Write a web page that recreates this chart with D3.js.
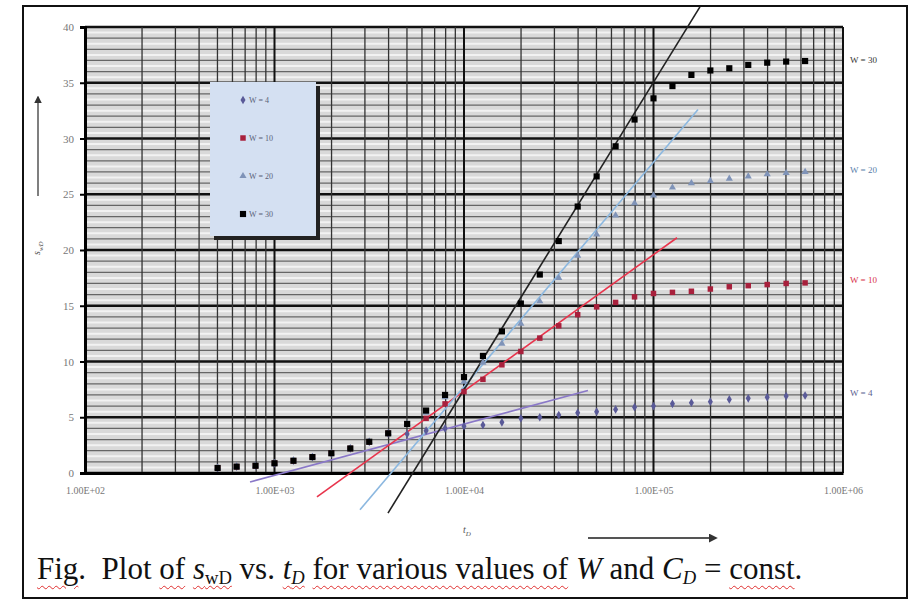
<!DOCTYPE html>
<html>
<head>
    <meta charset="utf-8">
    <script src="https://cdn.jsdelivr.net/npm/d3@7"></script>
    <title>s_wD vs t_D</title>
    <style>
        * {
            margin: 0;
            padding: 0;
        }

        body {
            width: 915px;
            height: 600px;
            background: #fff;
            position: relative;
            overflow: hidden;
        }

        #chart {
            position: absolute;
            left: 0;
            top: 0;
        }

        #caption {
            position: absolute;
            left: 37px;
            top: 551px;
            font-family: "Liberation Serif", "DejaVu Serif", serif;
            font-size: 31px;
            color: #111;
            white-space: nowrap;
        }

        #caption .sq {
            text-decoration: underline wavy #e03030;
            text-decoration-thickness: 1px;
            text-underline-offset: 6px;
        }

        #caption sub {
            font-size: 0.6em;
            vertical-align: -0.25em;
        }
    </style>
</head>
<body>
    <div id="chart"></div>
    <div id="caption"><span class="sq">Fig</span>.&nbsp; Plot <span class="sq">of</span> <span class="sq"><i>s</i><sub>wD</sub></span> vs. <span class="sq"><i>t<sub>D</sub></i></span> <span class="sq">for various values of</span> <i>W</i> and <i>C<sub>D</sub></i> = <span class="sq">const</span>.</div>
    <script>

        // dimensionless time (log spaced samples)
        var tD = [501, 631, 794, 1000, 1259, 1585, 1995, 2512, 3162, 3981, 5012, 6310,
            7943, 10000, 12589, 15849, 19953, 25119, 31623, 39811, 50119, 63096, 79433,
            100000, 125893, 158489, 199526, 251189, 316228, 398107, 501187, 630957];

        var sW4 = [0.45, 0.57, 0.65, 0.87, 1.10, 1.43, 1.77, 2.2, 2.8, 3.56,
            3.5, 3.8, 4.0, 4.2, 4.3, 4.55, 4.9, 5.0, 5.2, 5.4, 5.5, 5.7, 5.9, 6.0,
            6.2, 6.3, 6.4, 6.6, 6.7, 6.8, 6.9, 6.95];

        var sW10 = [0.45, 0.57, 0.65, 0.87, 1.10, 1.43, 1.77, 2.2, 2.8, 3.56, 4.4,
            4.9, 6.2, 7.3, 8.4, 9.7, 10.9, 12.1, 13.2, 14.2, 14.9, 15.3, 15.8, 16.1,
            16.2, 16.3, 16.5, 16.7, 16.8, 16.9, 17.0, 17.05];

        var sW20 = [0.45, 0.57, 0.65, 0.87, 1.10, 1.43, 1.77, 2.2, 2.8, 3.56, 4.4,
            5.4, 6.8, 8.2, 9.9, 11.6, 13.4, 15.4, 17.5, 19.5, 21.4, 23.1, 24.2, 24.9,
            25.6, 26.0, 26.2, 26.4, 26.6, 26.8, 26.9, 27.0];

        var sW30 = [0.45, 0.57, 0.65, 0.87, 1.10, 1.43, 1.77, 2.2, 2.8, 3.56, 4.4,
            5.6, 7.0, 8.6, 10.5, 12.7, 15.2, 17.8, 20.8, 23.9, 26.6, 29.3, 31.7, 33.6,
            34.7, 35.7, 36.1, 36.3, 36.6, 36.8, 36.9, 36.95];

        // straight-line (semilog) tangents, two end points each
        var lineT4 = [743, 45100], lineS4 = [-0.8, 7.4];
        var lineT10 = [1675, 133000], lineS10 = [-2.15, 21.1];
        var lineT20 = [2825, 171800], lineS20 = [-3.3, 32.6];
        var lineT30 = [3970, 175800], lineS30 = [-3.6, 41.8];

        var seriesNames = ["W = 4", "W = 10", "W = 20", "W = 30"];
        var xTickVals = [100, 1000, 10000, 100000, 1000000];
        var xTickLabels = ["1.00E+02", "1.00E+03", "1.00E+04", "1.00E+05", "1.00E+06"];
        var yTickVals = [0, 5, 10, 15, 20, 25, 30, 35, 40];

        var margin = { top: 27, right: 72, bottom: 127, left: 85 },
            width = 915 - margin.left - margin.right,
            height = 600 - margin.top - margin.bottom;

        var svg = d3.select("#chart")
            .append("svg")
            .attr("width", 915)
            .attr("height", 600);

        // outer frame
        svg.append("rect")
            .attr("x", 23).attr("y", 6)
            .attr("width", 884).attr("height", 592)
            .style("fill", "none")
            .style("stroke", "#111")
            .style("stroke-width", 2);

        var g = svg.append("g")
            .attr("transform", "translate(" + margin.left + "," + margin.top + ")");

        var xScale = d3.scaleLog()
            .domain([100, 1000000])
            .range([0, width]);

        var yScale = d3.scaleLinear()
            .domain([0, 40])
            .range([height, 0]);

        g.append("rect")
            .attr("width", width).attr("height", height)
            .style("fill", "#d9d9d9");

        // horizontal grid
        var halfUnits = d3.range(0, 40.01, 0.5);
        g.selectAll(".hg")
            .data(halfUnits)
            .enter()
            .append("line")
            .attr("x1", 0).attr("x2", width)
            .attr("y1", d => yScale(d)).attr("y2", d => yScale(d))
            .style("stroke", function (d) {
                if (d % 5 == 0) return "#111";
                if (d % 1 == 0) return "#666";
                return "#f2f2f2";
            })
            .style("stroke-width", function (d) {
                if (d % 5 == 0) return 2.5;
                if (d % 1 == 0) return 1.2;
                return 2;
            });

        // vertical grid
        var minorX = [];
        for (var dec = 100; dec < 1000000; dec *= 10) {
            for (var m = 2; m <= 9; m++) minorX.push(dec * m);
        }
        g.selectAll(".vg")
            .data(minorX)
            .enter()
            .append("line")
            .attr("y1", 0).attr("y2", height)
            .attr("x1", d => xScale(d)).attr("x2", d => xScale(d))
            .style("stroke", "#333")
            .style("stroke-width", 1.3);

        g.selectAll(".vmaj")
            .data(xTickVals)
            .enter()
            .append("line")
            .attr("y1", 0).attr("y2", height)
            .attr("x1", d => xScale(d)).attr("x2", d => xScale(d))
            .style("stroke", "#111")
            .style("stroke-width", 2);

        // axes
        var yAxis = g.append("g")
            .call(d3.axisLeft(yScale).tickValues(yTickVals).tickSize(5).tickPadding(6));
        yAxis.select(".domain").style("stroke", "#000").style("stroke-width", 3);
        yAxis.selectAll(".tick line").style("stroke", "#000").style("stroke-width", 2);
        yAxis.selectAll("text")
            .style("font-family", "Liberation Serif, serif")
            .style("font-size", "11px")
            .style("fill", "#777");

        var xAxis = g.append("g")
            .attr("transform", "translate(0," + height + ")")
            .call(d3.axisBottom(xScale).tickValues(xTickVals)
                .tickFormat((d, i) => xTickLabels[i]).tickSize(0).tickPadding(14));
        xAxis.select(".domain").style("stroke", "#000").style("stroke-width", 3);
        xAxis.selectAll("text")
            .style("font-family", "Liberation Serif, serif")
            .style("font-size", "10px")
            .style("fill", "#777");

        // tangent lines
        var tangents = [
            { t: lineT4, s: lineS4, color: "#8a78c8" },
            { t: lineT10, s: lineS10, color: "#e8344c" },
            { t: lineT20, s: lineS20, color: "#8cb8e0" },
            { t: lineT30, s: lineS30, color: "#222" }
        ];
        tangents.forEach(function (ln) {
            g.append("line")
                .attr("x1", xScale(ln.t[0])).attr("y1", yScale(ln.s[0]))
                .attr("x2", xScale(ln.t[1])).attr("y2", yScale(ln.s[1]))
                .style("stroke", ln.color)
                .style("stroke-width", 1.6);
        });

        // series markers
        var series = [
            { values: sW4, shape: d3.symbolDiamond, size: 22, color: "#5a5a98" },
            { values: sW10, shape: d3.symbolSquare, size: 30, color: "#a8203c" },
            { values: sW20, shape: d3.symbolTriangle, size: 22, color: "#7f93b8" },
            { values: sW30, shape: d3.symbolSquare, size: 38, color: "#000" }
        ];
        series.forEach(function (sr) {
            var sym = d3.symbol().type(sr.shape).size(sr.size);
            g.selectAll(null)
                .data(sr.values)
                .enter()
                .append("path")
                .attr("d", sym)
                .attr("transform", (d, i) => "translate(" + xScale(tD[i]) + "," + yScale(d) + ")")
                .style("fill", sr.color);
        });

        // legend box
        var lx = 210 - margin.left, ly = 82 - margin.top;
        g.append("rect")
            .attr("x", lx + 4).attr("y", ly + 4)
            .attr("width", 106).attr("height", 154)
            .style("fill", "#222");
        g.append("rect")
            .attr("x", lx).attr("y", ly)
            .attr("width", 106).attr("height", 154)
            .style("fill", "#d4e0f2");
        series.forEach(function (sr, i) {
            var yy = ly + 18 + i * 38;
            g.append("path")
                .attr("d", d3.symbol().type(sr.shape).size(sr.size)())
                .attr("transform", "translate(" + (lx + 33) + "," + yy + ")")
                .style("fill", sr.color);
            g.append("text")
                .attr("x", lx + 39).attr("y", yy + 3)
                .text(seriesNames[i])
                .style("font-family", "Liberation Serif, serif")
                .style("font-size", "8px")
                .style("fill", "#5a6078");
        });

        // right side labels
        var rightLabels = [
            { name: "W = 30", s: 37, color: "#333" },
            { name: "W = 20", s: 27.2, color: "#5a80aa" },
            { name: "W = 10", s: 17.3, color: "#d8304a" },
            { name: "W = 4", s: 7.2, color: "#5a6090" }
        ];
        rightLabels.forEach(function (lb) {
            g.append("text")
                .attr("x", width + 7)
                .attr("y", yScale(lb.s) + 3)
                .text(lb.name)
                .style("font-family", "Liberation Serif, serif")
                .style("font-size", "9px")
                .style("fill", lb.color);
        });

        // axis titles and arrows
        svg.append("defs").append("marker")
            .attr("id", "arr")
            .attr("viewBox", "0 0 10 10")
            .attr("refX", 8).attr("refY", 5)
            .attr("markerWidth", 5).attr("markerHeight", 5)
            .attr("orient", "auto")
            .append("path")
            .attr("d", "M0,0L10,5L0,10z")
            .style("fill", "#333");

        svg.append("line")
            .attr("x1", 38).attr("y1", 196).attr("x2", 38).attr("y2", 97)
            .style("stroke", "#555").style("stroke-width", 1.5)
            .attr("marker-end", "url(#arr)");

        var yt = svg.append("text")
            .attr("transform", "translate(40,255) rotate(-90)")
            .style("font-family", "Liberation Serif, serif")
            .style("font-size", "10px")
            .style("font-style", "italic")
            .style("fill", "#555");
        yt.append("tspan").text("s");
        yt.append("tspan").attr("dy", 3).style("font-size", "7px").text("wD");

        svg.append("line")
            .attr("x1", 588).attr("y1", 538).attr("x2", 716).attr("y2", 538)
            .style("stroke", "#555").style("stroke-width", 1.8)
            .attr("marker-end", "url(#arr)");

        var xt = svg.append("text")
            .attr("x", 463).attr("y", 533)
            .style("font-family", "Liberation Serif, serif")
            .style("font-size", "10px")
            .style("font-style", "italic")
            .style("fill", "#555");
        xt.append("tspan").text("t");
        xt.append("tspan").attr("dy", 3).style("font-size", "7px").text("D");

    </script>
</body>
</html>
